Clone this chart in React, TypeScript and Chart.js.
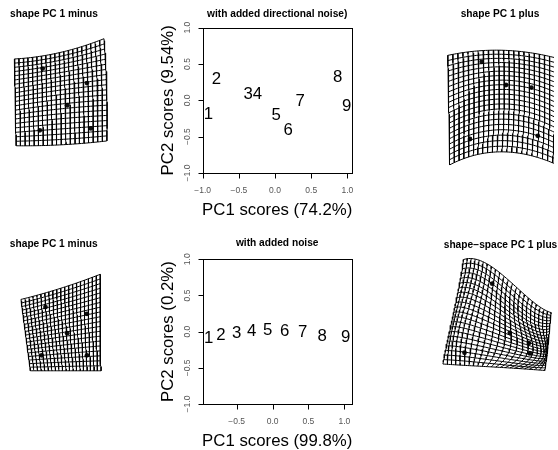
import React, { useEffect, useRef } from "react";
import { Chart, registerables } from "chart.js";
Chart.register(...registerables);

// ---------------- data: PCA score plots ----------------
const pointLabels = ["1", "2", "3", "4", "5", "6", "7", "8", "9"];
const dirNoisePC1 = [-0.92, -0.81, -0.37, -0.245, 0.014, 0.18, 0.346, 0.867, 0.99];
const dirNoisePC2 = [-0.18, 0.31, 0.1, 0.1, -0.19, -0.4, 0.01, 0.33, -0.07];
const noisePC1 = [-0.89, -0.72, -0.5, -0.29, -0.07, 0.17, 0.42, 0.69, 1.02];
const noisePC2 = [-0.075, -0.03, 0.0, 0.02, 0.03, 0.02, 0.01, -0.04, -0.06];
const yTicks = [-1, -0.5, 0, 0.5, 1];
const xTicksTop = [-1, -0.5, 0, 0.5, 1];
const xTicksBottom = [-0.5, 0, 0.5, 1];

// ---------------- data: deformation grids (shape units) ----------------
// control nodes (rows top->bottom, cols left->right)
const gridMinusTopX = [
  [-0.49, -0.015, 0.46],
  [-0.48, 0.0, 0.49],
  [-0.47, 0.01, 0.49],
];
const gridMinusTopY = [
  [0.38, 0.445, 0.59],
  [-0.06, 0.01, 0.06],
  [-0.52, -0.51, -0.47],
];
const landmarksMinusTopX = [-0.19, 0.28, 0.07, -0.22, 0.32];
const landmarksMinusTopY = [0.28, 0.13, -0.1, -0.36, -0.34];

const gridPlusTopX = [
  [-0.583, 0.0, 0.59],
  [-0.57, 0.01, 0.59],
  [-0.56, -0.017, 0.57],
];
const gridPlusTopY = [
  [0.547, 0.6, 0.51],
  [-0.02, 0.12, -0.04],
  [-0.587, -0.453, -0.59],
];
const landmarksPlusTopX = [-0.227, 0.027, 0.293, -0.35, 0.36];
const landmarksPlusTopY = [0.48, 0.24, 0.213, -0.32, -0.287];

const gridMinusBottomX = [
  [-0.44, -0.02, 0.4],
  [-0.39, 0.0, 0.4],
  [-0.34, 0.04, 0.41],
];
const gridMinusBottomY = [
  [0.24, 0.355, 0.5],
  [-0.13, -0.06, 0.01],
  [-0.5, -0.5, -0.5],
];
const landmarksMinusBottomX = [-0.18, 0.26, 0.05, -0.22, 0.26];
const landmarksMinusBottomY = [0.16, 0.09, -0.11, -0.34, -0.34];

const gridPlusBottomX = [
  [-0.367, -0.06, 0.26, 0.55],
  [-0.43, -0.12, 0.25, 0.53],
  [-0.51, -0.18, 0.29, 0.51],
  [-0.583, -0.25, 0.1, 0.483],
];
const gridPlusBottomY = [
  [0.613, 0.53, 0.26, 0.063],
  [0.25, 0.16, -0.07, -0.14],
  [-0.12, -0.18, -0.32, -0.34],
  [-0.47, -0.49, -0.51, -0.537],
];
const landmarksPlusBottomX = [-0.067, 0.117, 0.317, 0.327, -0.357];
const landmarksPlusBottomY = [0.363, -0.147, -0.253, -0.36, -0.353];

// ---------------- helpers ----------------
const FONT = "'Liberation Sans', Arial, Helvetica, sans-serif";

function lagrangeWeights(n: number, t: number): number[] {
  const nodes = Array.from({ length: n }, (_, i) => i / (n - 1));
  return nodes.map((ti, i) =>
    nodes.reduce((acc, tj, j) => (j === i ? acc : (acc * (t - tj)) / (ti - tj)), 1)
  );
}

function warp(nx: number[][], ny: number[][], u: number, v: number) {
  const rows = nx.length;
  const cols = nx[0].length;
  const wu = lagrangeWeights(cols, u);
  const wv = lagrangeWeights(rows, v);
  let x = 0;
  let y = 0;
  for (let r = 0; r < rows; r++) {
    for (let c = 0; c < cols; c++) {
      const w = wv[r] * wu[c];
      x += w * nx[r][c];
      y += w * ny[r][c];
    }
  }
  return { x, y };
}

function gridDatasets(nx: number[][], ny: number[][], nCols: number, nRows: number) {
  const sets: any[] = [];
  const samples = 50;
  const style = {
    showLine: true,
    pointRadius: 0,
    borderColor: "#000",
    borderWidth: 1,
    tension: 0,
    fill: false,
  };
  for (let i = 0; i <= nCols; i++) {
    const u = i / nCols;
    const data = [];
    for (let k = 0; k <= samples; k++) data.push(warp(nx, ny, u, k / samples));
    sets.push({ ...style, data });
  }
  for (let j = 0; j <= nRows; j++) {
    const v = j / nRows;
    const data = [];
    for (let k = 0; k <= samples; k++) data.push(warp(nx, ny, k / samples, v));
    sets.push({ ...style, data });
  }
  return sets;
}

type Box = { left: number; top: number; width: number; height: number };

function GridPanel(props: {
  box: Box;
  center: [number, number];
  title: string;
  titlePos: [number, number];
  nx: number[][];
  ny: number[][];
  lx: number[];
  ly: number[];
  nCols: number;
  nRows: number;
}) {
  const ref = useRef<HTMLCanvasElement>(null);
  useEffect(() => {
    const { box, center, nx, ny, lx, ly, nCols, nRows, title, titlePos } = props;
    const S = 100;
    const titlePlugin = {
      id: "gridTitle",
      afterDraw(chart: any) {
        const ctx = chart.ctx;
        ctx.save();
        ctx.font = `bold 10.2px ${FONT}`;
        ctx.fillStyle = "#000";
        ctx.textAlign = "center";
        ctx.textBaseline = "alphabetic";
        ctx.fillText(title, titlePos[0] - box.left, titlePos[1] - box.top + 3.7);
        ctx.restore();
      },
    };
    const chart = new Chart(ref.current!, {
      type: "scatter",
      data: {
        datasets: [
          ...gridDatasets(nx, ny, nCols, nRows),
          {
            data: lx.map((x, i) => ({ x, y: ly[i] })),
            pointRadius: 2.4,
            pointBackgroundColor: "#111",
            pointBorderWidth: 0,
            showLine: false,
          },
        ],
      },
      options: {
        responsive: false,
        animation: false,
        events: [],
        layout: { padding: 0 },
        plugins: { legend: { display: false }, tooltip: { enabled: false }, title: { display: false } },
        scales: {
          x: {
            type: "linear",
            display: false,
            min: (box.left - center[0]) / S,
            max: (box.left + box.width - center[0]) / S,
          },
          y: {
            type: "linear",
            display: false,
            min: (center[1] - (box.top + box.height)) / S,
            max: (center[1] - box.top) / S,
          },
        },
      },
      plugins: [titlePlugin],
    } as any);
    return () => chart.destroy();
  }, []);
  const { box } = props;
  return (
    <canvas
      ref={ref}
      width={box.width}
      height={box.height}
      style={{ position: "absolute", left: box.left, top: box.top, width: box.width, height: box.height }}
    />
  );
}

function ScorePanel(props: {
  box: Box;
  area: { left: number; top: number; right: number; bottom: number };
  xs: number[];
  ys: number[];
  xRange: [number, number];
  xTicks: number[];
  title: string;
  titleY: number;
  xLabel: string;
  yLabel: string;
}) {
  const ref = useRef<HTMLCanvasElement>(null);
  useEffect(() => {
    const { box, area, xs, ys, xRange, xTicks, title, titleY, xLabel, yLabel } = props;
    const fmt = (v: number) => (v < 0 ? "\u2212" : "") + Math.abs(v).toFixed(1);
    const rPlugin = {
      id: "rstyle",
      afterDraw(chart: any) {
        const ctx = chart.ctx;
        const ca = chart.chartArea;
        const xs_ = chart.scales.x;
        const ys_ = chart.scales.y;
        ctx.save();
        // box
        ctx.strokeStyle = "#000";
        ctx.lineWidth = 1;
        ctx.strokeRect(Math.round(ca.left) + 0.5, Math.round(ca.top) + 0.5, Math.round(ca.right - ca.left), Math.round(ca.bottom - ca.top));
        // x ticks
        ctx.font = `8.5px ${FONT}`;
        ctx.fillStyle = "#555";
        ctx.textAlign = "center";
        ctx.textBaseline = "middle";
        const by = Math.round(ca.bottom) + 0.5;
        ctx.beginPath();
        for (const t of xTicks) {
          const px = Math.round(xs_.getPixelForValue(t)) + 0.5;
          ctx.moveTo(px, by);
          ctx.lineTo(px, by + 5);
        }
        ctx.stroke();
        for (const t of xTicks) {
          ctx.fillText(fmt(t), xs_.getPixelForValue(t), ca.bottom + 17.5);
        }
        // y ticks
        const lx = Math.round(ca.left) + 0.5;
        ctx.beginPath();
        for (const t of yTicks) {
          const py = Math.round(ys_.getPixelForValue(t)) + 0.5;
          ctx.moveTo(lx - 5, py);
          ctx.lineTo(lx, py);
        }
        ctx.stroke();
        for (const t of yTicks) {
          ctx.save();
          ctx.translate(ca.left - 14.7, ys_.getPixelForValue(t));
          ctx.rotate(-Math.PI / 2);
          ctx.fillText(fmt(t), 0, 0);
          ctx.restore();
        }
        // axis labels
        ctx.fillStyle = "#000";
        ctx.font = `16.8px ${FONT}`;
        const cx = (ca.left + ca.right) / 2;
        const cy = (ca.top + ca.bottom) / 2;
        ctx.textBaseline = "alphabetic";
        ctx.fillText(xLabel, cx, ca.bottom + 42);
        ctx.save();
        ctx.translate(ca.left - 30, cy);
        ctx.rotate(-Math.PI / 2);
        ctx.fillText(yLabel, 0, 0);
        ctx.restore();
        // title
        ctx.font = `bold 10.2px ${FONT}`;
        ctx.fillText(title, cx, titleY + 3.7);
        // point labels
        ctx.font = `16.8px ${FONT}`;
        const meta = chart.getDatasetMeta(0);
        meta.data.forEach((el: any, i: number) => {
          ctx.fillText(pointLabels[i], el.x, el.y + 0.358 * 16.8);
        });
        ctx.restore();
      },
    };
    const chart = new Chart(ref.current!, {
      type: "scatter",
      data: {
        datasets: [
          {
            data: xs.map((x, i) => ({ x, y: ys[i] })),
            pointRadius: 0,
            showLine: false,
          },
        ],
      },
      options: {
        responsive: false,
        animation: false,
        events: [],
        layout: {
          padding: {
            left: area.left,
            top: area.top,
            right: box.width - area.right,
            bottom: box.height - area.bottom,
          },
        },
        plugins: { legend: { display: false }, tooltip: { enabled: false }, title: { display: false } },
        scales: {
          x: { type: "linear", display: false, min: xRange[0], max: xRange[1] },
          y: { type: "linear", display: false, min: -1, max: 1 },
        },
      },
      plugins: [rPlugin],
    } as any);
    return () => chart.destroy();
  }, []);
  const { box } = props;
  return (
    <canvas
      ref={ref}
      width={box.width}
      height={box.height}
      style={{ position: "absolute", left: box.left, top: box.top, width: box.width, height: box.height }}
    />
  );
}

export default function App() {
  return (
    <div style={{ position: "absolute", left: 0, top: 0, width: 558, height: 450, background: "#fff", overflow: "hidden" }}>
      <GridPanel
        box={{ left: 0, top: 0, width: 140, height: 225 }}
        center={[60, 95]}
        title="shape PC 1 minus"
        titlePos={[54, 13.3]}
        nx={gridMinusTopX}
        ny={gridMinusTopY}
        lx={landmarksMinusTopX}
        ly={landmarksMinusTopY}
        nCols={20}
        nRows={20}
      />
      <ScorePanel
        box={{ left: 140, top: 0, width: 240, height: 225 }}
        area={{ left: 62.7, top: 27.7, right: 211.7, bottom: 173 }}
        xs={dirNoisePC1}
        ys={dirNoisePC2}
        xRange={[-1, 1.06]}
        xTicks={xTicksTop}
        title="with added directional noise)"
        titleY={13.3}
        xLabel="PC1 scores (74.2%)"
        yLabel="PC2 scores (9.54%)"
      />
      <GridPanel
        box={{ left: 380, top: 0, width: 178, height: 225 }}
        center={[505, 108]}
        title="shape PC 1 plus"
        titlePos={[500, 13.3]}
        nx={gridPlusTopX}
        ny={gridPlusTopY}
        lx={landmarksPlusTopX}
        ly={landmarksPlusTopY}
        nCols={22}
        nRows={21}
      />
      <GridPanel
        box={{ left: 0, top: 225, width: 140, height: 225 }}
        center={[62, 322]}
        title="shape PC 1 minus"
        titlePos={[53.7, 243.3]}
        nx={gridMinusBottomX}
        ny={gridMinusBottomY}
        lx={landmarksMinusBottomX}
        ly={landmarksMinusBottomY}
        nCols={20}
        nRows={20}
      />
      <ScorePanel
        box={{ left: 140, top: 225, width: 240, height: 225 }}
        area={{ left: 62.7, top: 34.3, right: 211.7, bottom: 179 }}
        xs={noisePC1}
        ys={noisePC2}
        xRange={[-0.974, 1.103]}
        xTicks={xTicksBottom}
        title="with added noise"
        titleY={17.7}
        xLabel="PC1 scores (99.8%)"
        yLabel="PC2 scores (0.2%)"
      />
      <GridPanel
        box={{ left: 380, top: 225, width: 178, height: 225 }}
        center={[500, 318]}
        title={"shape\u2212space PC 1 plus"}
        titlePos={[500.5, 244]}
        nx={gridPlusBottomX}
        ny={gridPlusBottomY}
        lx={landmarksPlusBottomX}
        ly={landmarksPlusBottomY}
        nCols={22}
        nRows={22}
      />
    </div>
  );
}
